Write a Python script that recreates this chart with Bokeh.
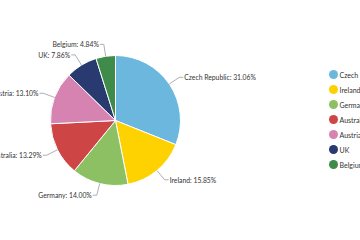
import math
from bokeh.plotting import figure
from bokeh.models import Range1d, ColumnDataSource
from bokeh.core.properties import value
from bokeh.embed import file_html
from bokeh.resources import INLINE

countries = ["Czech Republic", "Ireland", "Germany", "Australia", "Austria", "UK", "Belgium"]
shares = [31.06, 15.85, 14.00, 13.29, 13.10, 7.86, 4.84]
colors = ["#6cb7dd", "#fdd200", "#8dc063", "#cd4545", "#d683b1", "#283a6f", "#3f8b4a"]

W, H = 360, 240
cx, cy = 115, H - 120
R = 65
D = 12

p = figure(width=W, height=H, output_backend="svg", toolbar_location=None,
           x_range=Range1d(0, W), y_range=Range1d(0, H),
           x_axis_location=None, y_axis_location=None, min_border=0)
p.outline_line_color = None
p.grid.visible = False
p.background_fill_color = "white"

total = sum(shares)
starts, ends = [], []
lx, ly, ltxt, align = [], [], [], []
cxs, cys = [], []
cum = 0.0
for name, v in zip(countries, shares):
    a0 = math.pi / 2 - 2 * math.pi * (cum + v) / total
    a1 = math.pi / 2 - 2 * math.pi * cum / total
    starts.append(a0)
    ends.append(a1)
    mid = (a0 + a1) / 2
    ex, ey = cx + R * math.cos(mid), cy + R * math.sin(mid)
    ox, oy = cx + (R + D) * math.cos(mid), cy + (R + D) * math.sin(mid)
    side = 1 if math.cos(mid) >= 0 else -1
    tx = ox + side * 5
    cxs.append([ex, ox, tx - side * 1])
    cys.append([ey, oy, oy])
    lx.append(tx)
    ly.append(oy)
    ltxt.append(f"{name}: {v:.2f}%")
    align.append("left" if side > 0 else "right")
    cum += v

src = ColumnDataSource(dict(start=starts, end=ends, color=colors))
p.wedge(x=cx, y=cy, radius=R, start_angle="start", end_angle="end",
        fill_color="color", line_color="white", line_width=1, source=src)

p.multi_line(xs=cxs, ys=cys, line_color="#9a9a9a", line_width=0.8)

lsrc = ColumnDataSource(dict(x=lx, y=ly, t=ltxt, a=align))
p.text(x="x", y="y", text="t", text_align="a", text_baseline="middle",
       text_font=value("Lato"), text_font_size="6.8px", text_color="#333333", source=lsrc)

# legend
leg_x = 333
leg_y0 = H - 74
step = 15
lgx = [leg_x] * len(countries)
lgy = [leg_y0 - i * step for i in range(len(countries))]
p.scatter(x=lgx, y=lgy, size=9, marker="circle", fill_color=colors, line_color=None)
p.text(x=[leg_x + 6] * len(countries), y=lgy, text=countries, text_baseline="middle",
       text_font=value("Lato"), text_font_size="7px", text_color="#333333")

open("out.html", "w").write(file_html(p, INLINE))
